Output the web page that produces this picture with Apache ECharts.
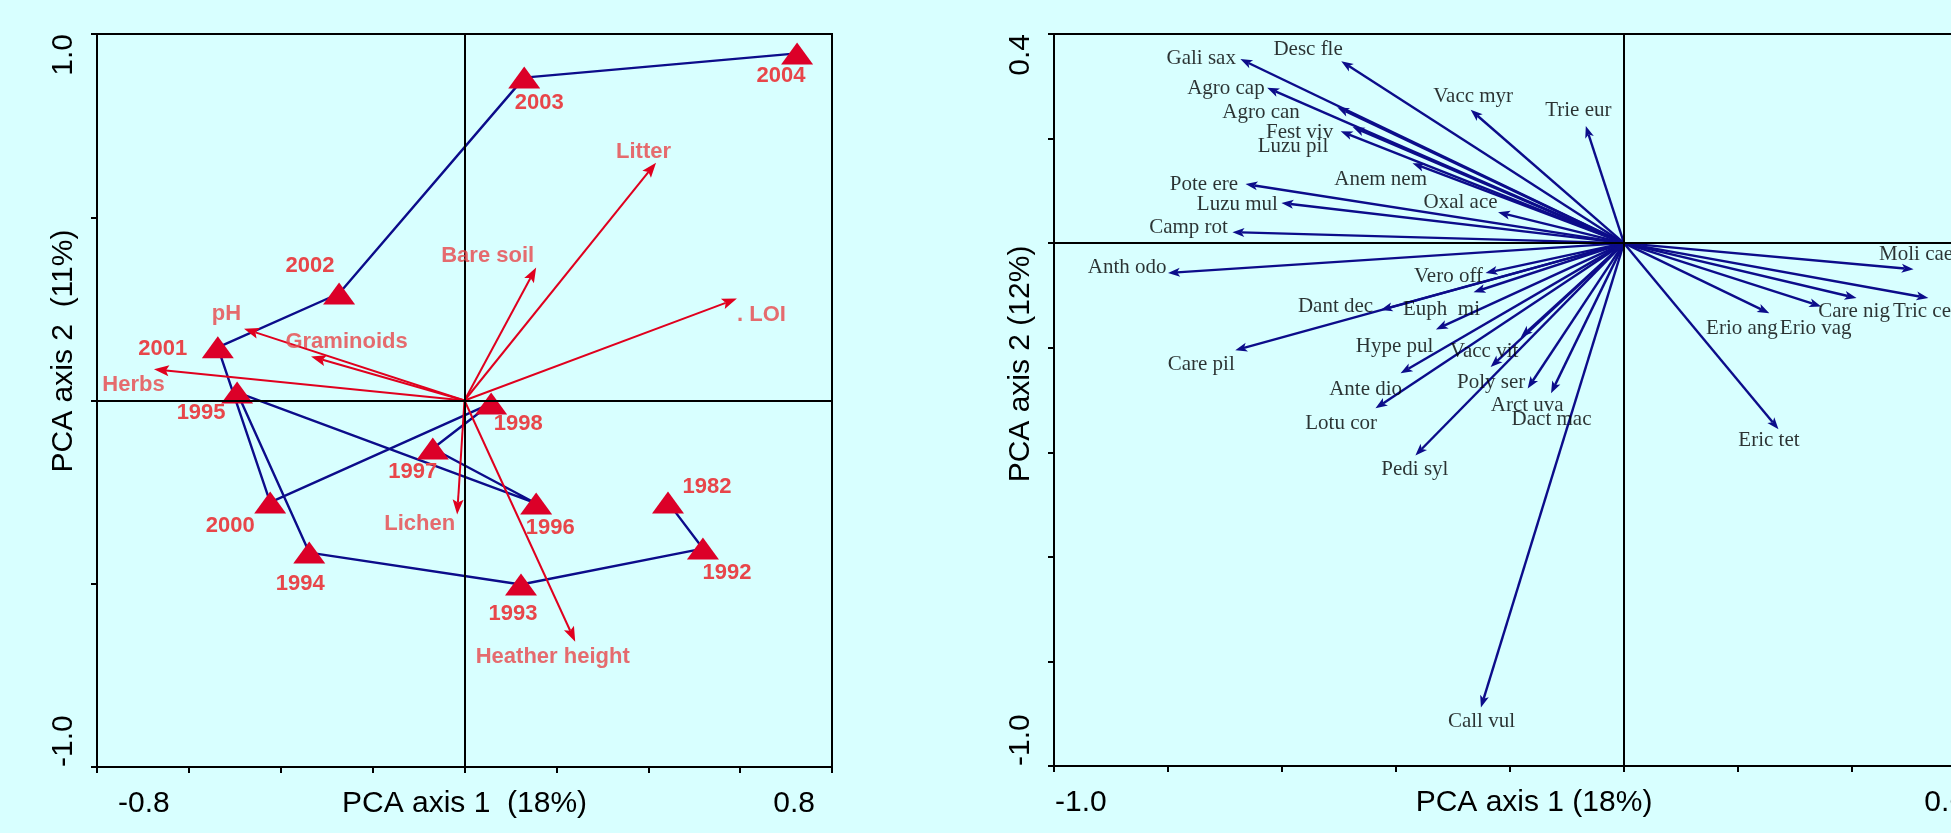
<!DOCTYPE html>
<html><head><meta charset="utf-8">
<script src="https://cdn.jsdelivr.net/npm/echarts@6/dist/echarts.min.js"></script>
<style>html,body{margin:0;padding:0;background:#D8FFFF;} #c{width:1951px;height:833px;}</style>
</head><body><div id="c"></div>
<script>
// ---- Left plot: sampling years (PCA scores) ----
const years = ['1982','1992','1993','1994','1995','1996','1997','1998','2000','2001','2002','2003','2004'];
const yearX = [0.443, 0.519, 0.123, -0.338, -0.495, 0.156, -0.069, 0.058, -0.423, -0.537, -0.273, 0.130, 0.724];
const yearY = [-0.278, -0.404, -0.502, -0.415, 0.022, -0.281, -0.131, -0.008, -0.278, 0.145, 0.292, 0.881, 0.947];

// ---- Left plot: environmental vectors ----
const envNames = ['Litter','Bare soil','. LOI','pH','Graminoids','Herbs','Lichen','Heather height'];
const envX = [0.417, 0.156, 0.593, -0.480, -0.334, -0.676, -0.016, 0.241];
const envY = [0.649, 0.363, 0.278, 0.196, 0.120, 0.085, -0.311, -0.658];

// ---- Right plot: species vectors ----
const spNames = ['Gali sax','Desc fle','Agro cap','Agro can','Fest viv','Luzu pil','Anem nem','Oxal ace','Pote ere','Luzu mul','Camp rot','Vacc myr','Trie eur',
  'Anth odo','Care pil','Dant dec','Vero off','Euph  mi','Hype pul','Vacc vit','Ante dio','Poly ser','Arct uva','Dact mac','Lotu cor','Pedi syl','Call vul',
  'Eric tet','Erio ang','Erio vag','Care nig','Tric ces','Moli cae'];
const spX = [-0.673,-0.496,-0.626,-0.503,-0.476,-0.497,-0.371,-0.221,-0.664,-0.601,-0.687,-0.269,-0.067,
  -0.800,-0.682,-0.427,-0.243,-0.264,-0.330,-0.181,-0.392,-0.234,-0.169,-0.128,-0.436,-0.366,-0.251,
  0.271,0.255,0.346,0.408,0.534,0.508];
const spY = [0.352,0.348,0.297,0.260,0.222,0.214,0.153,0.059,0.113,0.077,0.021,0.255,0.224,
  -0.057,-0.205,-0.128,-0.057,-0.094,-0.165,-0.180,-0.249,-0.237,-0.278,-0.287,-0.316,-0.406,-0.888,
  -0.356,-0.134,-0.121,-0.105,-0.105,-0.050];

// ---- Tick labels ----
const leftXTickValues = [-0.8, 0.8], leftXTickLabels = ['-0.8', '0.8'];
const leftYTickValues = [-1.0, 1.0], leftYTickLabels = ['-1.0', '1.0'];
const rightXTickValues = [-1.0, 0.6], rightXTickLabels = ['-1.0', '0.6'];
const rightYTickValues = [-1.0, 0.4], rightYTickLabels = ['-1.0', '0.4'];

// ---- Label placement (style only) ----
const yearLabelOff = [[39,-15],[24,24],[-8,29],[-9,31],[-36,21],[14,24],[-20,23],[27,21],[-40,24],[-55,2],[-29,-28],[15,25],[-16,23]];
const envLabelOff = [[-12,-10],[-48,-11],[25,17],[-17,-14],[36,-14],[-20,16],[-37,10],[-22,16]];
const spLabelPlace = [['right',-4,0],['right',2,-11],['right',-2,1],['right',-37,6],['right',-19,6],['right',-12,16],['right',15,17],['right',0,-9],
  ['right',-7,1],['right',-3,2],['right',-4,-4],['center',3,-13],['center',-7,-15],
  ['right',-1,-5],['right',0,15],['right',-7,-3],['right',-2,4],['right',7,18],['right',-2,18],['right',-2,15],['right',2,17],['center',1,16],
  ['center',0,17],['center',1,27],['right',2,16],['center',0,15],['center',1,15],
  ['center',-9,12],['right',9,16],['center',-5,23],['center',-2,14],['left',-35,14],['left',-34,-14]];

const SANS = 'Liberation Sans, Arial, sans-serif';
const SERIF = 'Liberation Serif, Times New Roman, serif';
const LABEL_RED = '#E8464A', TRI_RED = '#DC0028', ARROW_RED = '#E0001E', NAVY = '#0C0C8A';

function tickFmt(vals, labs) {
  return function (v) {
    const i = vals.findIndex(t => Math.abs(t - v) < 1e-6);
    if (i < 0) return '';
    return (i === 0 ? '{lo|' : '{hi|') + labs[i] + '}';
  };
}
function arrowRender(color, width, headLen, headHalf) {
  return function (params, api) {
    const o = api.coord([0, 0]);
    const t = api.coord([api.value(0), api.value(1)]);
    const dx = t[0] - o[0], dy = t[1] - o[1];
    const L = Math.hypot(dx, dy) || 1;
    const ux = dx / L, uy = dy / L, nx = -uy, ny = ux;
    const bx = t[0] - ux * headLen, by = t[1] - uy * headLen;
    return { type: 'group', children: [
      { type: 'line', shape: { x1: o[0], y1: o[1], x2: bx + ux * 3, y2: by + uy * 3 }, style: { stroke: color, lineWidth: width } },
      { type: 'polygon', shape: { points: [[t[0], t[1]], [bx + nx * headHalf, by + ny * headHalf], [bx + ux * 3, by + uy * 3], [bx - nx * headHalf, by - ny * headHalf]] }, style: { fill: color } }
    ] };
  };
}
function xAxisCfg(grid, min, max, name, vals, labs, pads, namePad) {
  return {
    gridIndex: grid, type: 'value', min: min, max: max, interval: 0.2,
    name: name, nameLocation: 'middle', nameGap: 22, nameMoveOverlap: false,
    nameTextStyle: { fontSize: 30, fontFamily: SANS, color: '#000', padding: [0, 0, 0, namePad] },
    axisLine: { show: true, onZero: false, lineStyle: { color: '#000', width: 2 } },
    axisTick: { show: true, inside: false, length: 6, lineStyle: { color: '#000', width: 2 } },
    splitLine: { show: false },
    axisLabel: { show: true, margin: 22, fontSize: 30, fontFamily: SANS, color: '#000',
      alignMinLabel: 'left', alignMaxLabel: 'right', formatter: tickFmt(vals, labs),
      rich: { lo: { fontSize: 30, fontFamily: SANS, color: '#000', padding: [0, 0, 0, pads[0]] },
              hi: { fontSize: 30, fontFamily: SANS, color: '#000', padding: [0, pads[1], 0, 0] } } }
  };
}
function yAxisCfg(grid, min, max, interval, name, vals, labs, namePad) {
  return {
    gridIndex: grid, type: 'value', min: min, max: max, interval: interval,
    name: name, nameLocation: 'middle', nameGap: 18, nameRotate: 90, nameMoveOverlap: false,
    nameTextStyle: { fontSize: 30, fontFamily: SANS, color: '#000', padding: [0, 0, 0, namePad] },
    axisLine: { show: true, onZero: false, lineStyle: { color: '#000', width: 2 } },
    axisTick: { show: true, inside: false, length: 6, lineStyle: { color: '#000', width: 2 } },
    splitLine: { show: false },
    axisLabel: { show: true, rotate: 90, margin: 18, fontSize: 30, fontFamily: SANS, color: '#000',
      alignMinLabel: 'left', alignMaxLabel: 'right', formatter: tickFmt(vals, labs),
      rich: { lo: { fontSize: 30, fontFamily: SANS, color: '#000' }, hi: { fontSize: 30, fontFamily: SANS, color: '#000' } } }
  };
}
const zeroLines = {
  silent: true, symbol: ['none', 'none'], label: { show: false }, animation: false,
  lineStyle: { color: '#000', width: 2, type: 'solid' }, data: [{ xAxis: 0 }, { yAxis: 0 }]
};

const yearPts = years.map((y, i) => [yearX[i], yearY[i]]);
const option = {
  animation: false,
  backgroundColor: '#D8FFFF',
  grid: [
    { left: 97, top: 34, width: 735, height: 733, show: true, borderColor: '#000', borderWidth: 2, backgroundColor: 'transparent', containLabel: false, outerBoundsMode: 'none' },
    { left: 1054, top: 34, width: 912, height: 732, show: true, borderColor: '#000', borderWidth: 2, backgroundColor: 'transparent', containLabel: false, outerBoundsMode: 'none' }
  ],
  xAxis: [
    xAxisCfg(0, -0.8, 0.8, 'PCA axis 1  (18%)', leftXTickValues, leftXTickLabels, [21, 17], 0),
    xAxisCfg(1, -1.0, 0.6, 'PCA axis 1 (18%)', rightXTickValues, rightXTickLabels, [1, 0], 48)
  ],
  yAxis: [
    yAxisCfg(0, -1.0, 1.0, 0.5, 'PCA axis 2  (11%)', leftYTickValues, leftYTickLabels, 99),
    yAxisCfg(1, -1.0, 0.4, 0.2, 'PCA axis 2 (12%)', rightYTickValues, rightYTickLabels, 72)
  ],
  series: [
    // left: zero lines + env labels
    { type: 'scatter', xAxisIndex: 0, yAxisIndex: 0, symbolSize: 1, itemStyle: { color: 'transparent' }, z: 6,
      markLine: zeroLines,
      label: { show: true, formatter: p => p.name, fontSize: 22, fontWeight: 'bold', fontFamily: SANS, color: LABEL_RED },
      data: envNames.map((n, i) => ({ name: n, value: [envX[i], envY[i]],
        label: { position: envLabelOff[i], align: 'center', verticalAlign: 'middle' } })) },
    // left: trajectory line
    { type: 'line', xAxisIndex: 0, yAxisIndex: 0, data: yearPts, symbol: 'none', z: 2,
      lineStyle: { color: NAVY, width: 2.4 } },
    // left: env arrows
    { type: 'custom', xAxisIndex: 0, yAxisIndex: 0, z: 3, clip: false,
      renderItem: arrowRender(ARROW_RED, 2, 15, 5.5), encode: { x: 0, y: 1 },
      data: envNames.map((n, i) => [envX[i], envY[i]]) },
    // left: year triangles
    { type: 'scatter', xAxisIndex: 0, yAxisIndex: 0, symbol: 'triangle', symbolSize: [32, 22], z: 4,
      itemStyle: { color: TRI_RED, opacity: 1 },
      label: { show: true, formatter: p => p.name, fontSize: 22, fontWeight: 'bold', fontFamily: SANS, color: LABEL_RED },
      data: years.map((n, i) => ({ name: n, value: [yearX[i], yearY[i]],
        label: { position: [16 + yearLabelOff[i][0], 11 + yearLabelOff[i][1]], align: 'center', verticalAlign: 'middle' } })) },
    // right: zero lines + species labels
    { type: 'scatter', xAxisIndex: 1, yAxisIndex: 1, symbolSize: 1, itemStyle: { color: 'transparent' }, z: 6,
      markLine: zeroLines,
      label: { show: true, formatter: p => p.name, fontSize: 21, fontFamily: SERIF, color: '#000' },
      data: spNames.map((n, i) => ({ name: n, value: [spX[i], spY[i]],
        label: { position: [spLabelPlace[i][1], spLabelPlace[i][2]], align: spLabelPlace[i][0], verticalAlign: 'middle' } })) },
    // right: species arrows
    { type: 'custom', xAxisIndex: 1, yAxisIndex: 1, z: 3, clip: false,
      renderItem: arrowRender(NAVY, 2.4, 12, 4.5), encode: { x: 0, y: 1 },
      data: spNames.map((n, i) => [spX[i], spY[i]]) }
  ]
};
const chart = echarts.init(document.getElementById('c'), null, { renderer: 'canvas' });
chart.setOption(option);
</script></body></html>
